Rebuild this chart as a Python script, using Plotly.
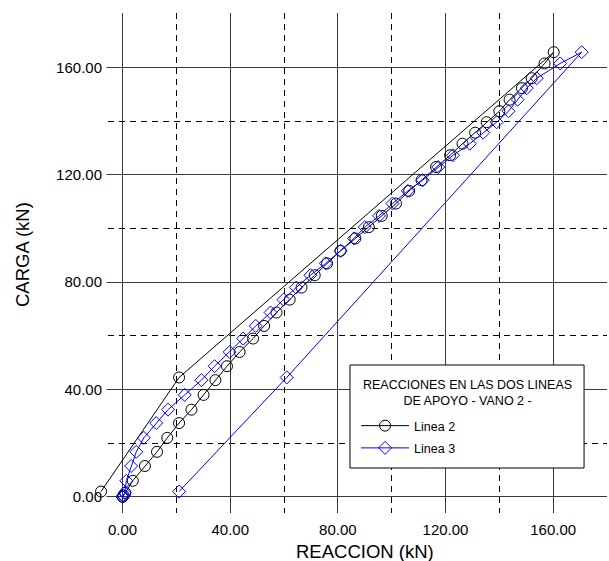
import plotly.graph_objects as go

# Load steps (kN) applied on loading, then the two unloading stages
carga_subida = [0, 0.5, 1.5, 6.0, 11.5, 16.8, 22.0, 27.5, 32.5, 38.0, 43.5, 48.7, 54.0,
                59.0, 63.7, 68.7, 73.5, 78.0, 82.6, 87.0, 91.7, 96.3, 100.5, 104.7, 109.3,
                114.0, 118.0, 122.9, 127.3, 131.6, 135.7, 139.6, 143.7, 148.0, 152.3,
                156.0, 161.5, 165.7]
carga_bajada = [44.5, 2.0]

# Support reactions (kN) for each support line
linea2_subida = [0, 0.4, 1.0, 3.8, 8.3, 12.8, 16.6, 21.0, 25.6, 30.1, 34.5, 38.8, 43.5,
                 48.5, 52.6, 57.2, 62.1, 66.5, 71.4, 76.0, 81.0, 86.5, 91.5, 96.3, 101.6,
                 106.5, 111.1, 116.5, 121.7, 126.3, 131.0, 135.3, 140.0, 143.8, 148.4,
                 152.0, 156.8, 160.2]
linea2_bajada = [21.0, -8.0]

linea3_subida = [0, 0.3, 0.8, 1.4, 3.2, 5.1, 7.9, 12.5, 16.9, 23.1, 29.3, 34.2, 39.8,
                 44.8, 49.5, 55.0, 59.8, 64.5, 69.8, 75.5, 81.0, 86.0, 90.0, 95.3, 100.3,
                 106.0, 111.5, 117.3, 122.8, 129.0, 134.0, 139.0, 143.4, 146.8, 150.2,
                 153.9, 162.6, 170.6]
linea3_bajada = [61.0, 21.0]

ticks_principales = [0, 40, 80, 120, 160]
ticks_secundarios_x = [20, 60, 100, 140]
ticks_secundarios_y = [20, 60, 100, 140, 180]
etiquetas = [f"{v:.2f}" for v in ticks_principales]

titulo_x = "REACCION (kN)"
titulo_y = "CARGA (kN)"
titulo_leyenda = "REACCIONES EN LAS DOS LINEAS<br>DE APOYO - VANO 2 -"

FUENTE = "Arial, Liberation Sans, sans-serif"

# Axis extents; the grid is drawn from -6 on both axes
X_MIN, X_MAX = -9.5, 180
Y_MIN, Y_MAX = -6, 180.3
GRID_MIN = -6

fig = go.Figure()
fig.add_trace(go.Scatter(
    x=linea2_subida + linea2_bajada, y=carga_subida + carga_bajada,
    mode="lines+markers", name="Linea 2", legendgroup="l2", cliponaxis=False,
    line=dict(color="black", width=1),
    marker=dict(symbol="circle-open", size=11, color="black", line=dict(width=1)),
))
fig.add_trace(go.Scatter(
    x=linea3_subida + linea3_bajada, y=carga_subida + carga_bajada,
    mode="lines+markers", name="Linea 3", legendgroup="l3", cliponaxis=False,
    line=dict(color="#0000ff", width=1),
    marker=dict(symbol="diamond-open", size=10, color="#0000ff", line=dict(width=1)),
))

eje = dict(
    showline=False, zeroline=False, showgrid=True,
    gridcolor="#3a3a3a", gridwidth=1,
    tickmode="array", tickvals=ticks_principales, ticktext=etiquetas,
    tickfont=dict(family=FUENTE, size=15, color="black"),
)
menor = dict(tickmode="array", showgrid=True, gridcolor="black", gridwidth=1,
             griddash="6px,5px")

# Blank strip left of the grid start, kept under the traces
fig.add_shape(type="rect", xref="x", yref="y", layer="between",
              x0=X_MIN, x1=GRID_MIN, y0=Y_MIN, y1=Y_MAX,
              fillcolor="white", line=dict(width=0))

# Axis titles, centred on the gridded area
fig.add_annotation(xref="paper", yref="paper", x=0.5255, y=-0.076,
                   xanchor="center", yanchor="middle", showarrow=False,
                   text=titulo_x, font=dict(family=FUENTE, size=18.5, color="black"))
fig.add_annotation(xref="paper", yref="paper", x=-0.147, y=0.516,
                   xanchor="center", yanchor="middle", showarrow=False, textangle=-90,
                   text=titulo_y, font=dict(family=FUENTE, size=18.5, color="black"))

# Legend frame and its two-line heading
fig.add_shape(type="rect", xref="paper", yref="paper", layer="above",
              x0=0.496, x1=0.955, y0=0.090, y1=0.296,
              fillcolor="white", line=dict(color="black", width=1))
fig.add_annotation(xref="paper", yref="paper", x=0.7255, y=0.274,
                   xanchor="center", yanchor="top", showarrow=False,
                   text=titulo_leyenda, align="center",
                   font=dict(family=FUENTE, size=12.5, color="black"))

fig.update_layout(
    width=609, height=561,
    margin=dict(l=97, r=2, t=13, b=48),
    paper_bgcolor="white", plot_bgcolor="white",
    font=dict(family=FUENTE, color="black"),
    xaxis=dict(**eje, range=[X_MIN, X_MAX], ticks="outside", ticklen=3,
               tickcolor="rgba(0,0,0,0)",
               minor=dict(**menor, tickvals=ticks_secundarios_x)),
    yaxis=dict(**eje, range=[Y_MIN, Y_MAX], ticks="", ticklabelstandoff=-6,
               minor=dict(**menor, tickvals=ticks_secundarios_y)),
    legend=dict(
        x=0.508, y=0.204, xanchor="left", yanchor="top",
        bgcolor="rgba(0,0,0,0)", borderwidth=0,
        font=dict(family=FUENTE, size=12.5, color="black"),
        traceorder="grouped", tracegroupgap=3,
        itemwidth=48,
    ),
)

fig.write_html("out.html")
